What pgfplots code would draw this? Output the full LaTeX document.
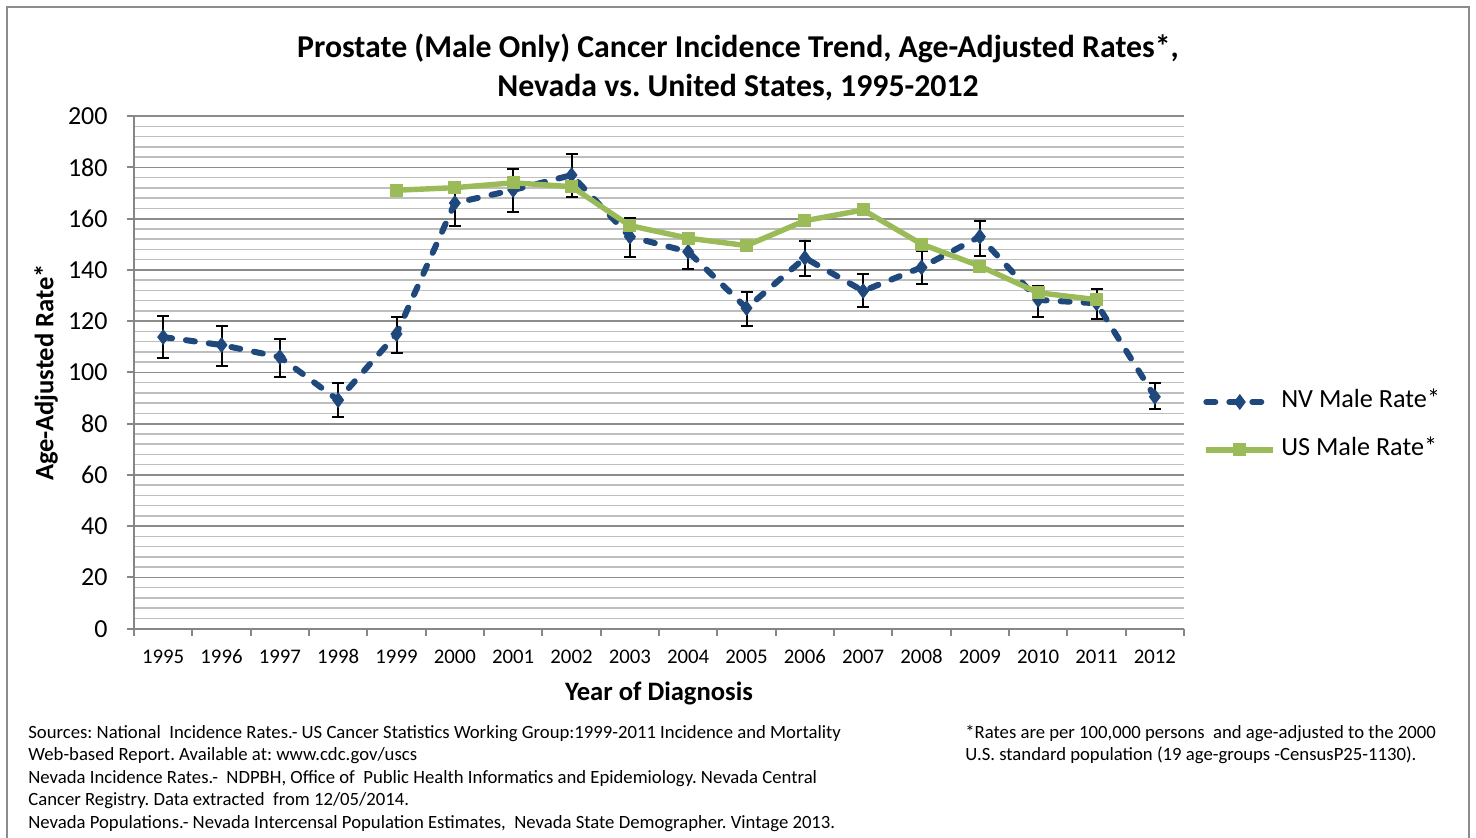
\documentclass[border=0pt]{standalone}
\usepackage{fontspec}
\setmainfont{Carlito}
\usepackage{pgfplots}
\usepackage{pgfplotstable}
\pgfplotsset{compat=1.18}
\frenchspacing
\definecolor{nvblue}{HTML}{1F497D}
\definecolor{usgreen}{HTML}{9BBB59}
\definecolor{majgrid}{HTML}{8C8C8C}
\definecolor{mingrid}{HTML}{BEBEBE}
\definecolor{axisgray}{HTML}{868686}
\definecolor{framegray}{HTML}{8C8C8C}

\pgfplotstableread{
x y ep em
0 113.8 8.2 8.2
1 110.7 7.4 8.2
2 106.0 7.0 7.8
3 89.2 6.7 6.6
4 115.0 6.6 7.4
5 166.1 8.2 8.8
6 171.2 8.2 8.6
7 177.0 8.2 8.4
8 153.0 7.3 7.8
9 147.1 7.3 6.7
10 125.1 6.3 6.9
11 144.7 6.7 6.9
12 131.8 6.5 6.1
13 141.0 6.5 6.5
14 153.0 6.2 7.6
15 128.3 5.6 6.5
16 127.0 5.6 6.1
17 90.5 5.3 4.8
}\nvdata

\pgfplotstableread{
x y
4 171.1
5 172.1
6 174.0
7 172.5
8 157.3
9 152.4
10 149.5
11 159.2
12 163.4
13 150.1
14 141.5
15 131.1
16 128.4
}\usdata

\begin{document}
\begin{tikzpicture}
\path[use as bounding box] (0pt,0pt) rectangle (738pt,419pt);
\draw[framegray, line width=1.2pt] (3.5pt,-5pt) -- (3.5pt,415.5pt) -- (734.5pt,415.5pt) -- (734.5pt,-5pt);

\begin{axis}[
  at={(67pt,104.65pt)}, anchor=south west,
  scale only axis, width=525pt, height=256.25pt,
  xmin=-0.5, xmax=17.5, ymin=0, ymax=200,
  axis x line=bottom, axis y line=left,
  axis line style={-, draw=axisgray, line width=1pt},
  tick align=outside,
  major tick length=3.5pt, minor tick length=0pt,
  tick style={draw=axisgray, line width=1pt},
  /pgf/number format/assume math mode=true,
  xtick={-0.5,0.5,...,17.5}, xticklabels={},
  extra x ticks={0,1,...,17},
  extra x tick labels={1995,1996,1997,1998,1999,2000,2001,2002,2003,2004,2005,2006,2007,2008,2009,2010,2011,2012},
  extra x tick style={major tick length=0pt},
  x tick label style={font=\fontsize{10.4}{12}\selectfont, anchor=base, yshift=-17.4pt},
  ytick={0,20,...,200},
  minor y tick num=4,
  y tick label style={font=\fontsize{13}{15}\selectfont, anchor=east, inner sep=0pt, xshift=-9.5pt},
  ymajorgrids, yminorgrids,
  major grid style={draw=majgrid, line width=0.9pt},
  minor grid style={draw=mingrid, line width=0.8pt},
  xlabel={Year of Diagnosis},
  xlabel style={font=\fontsize{13.3}{15}\selectfont\bfseries, at={(axis description cs:0.5,0)}, anchor=base, yshift=-36.15pt},
  ylabel={Age-Adjusted Rate*},
  ylabel style={font=\fontsize{13.3}{15}\selectfont\bfseries, at={(axis description cs:0,0.5)}, anchor=base, yshift=40.35pt},
  legend cell align=left,
  legend style={at={(axis description cs:1.018,0.3955)}, anchor=west, draw=none, fill=none,
    font=\fontsize{13.1}{15}\selectfont, inner sep=0pt, row sep=12pt,
    nodes={inner sep=0pt, text height=9pt, text depth=3pt},
    /tikz/every odd column/.append style={column sep=2.5pt}},
  legend image code/.code={\draw[mark repeat=2,mark phase=2] plot coordinates {(0pt,0pt) (16.75pt,0pt) (33.5pt,0pt)};},
]
\addplot[nvblue, line width=3pt, dash pattern=on 4.5pt off 7pt, line cap=round,
  mark=diamond*, mark size=3.6pt, mark options={solid, fill=nvblue, line width=0.5pt},
  error bars/.cd, y dir=both, y explicit,
  error bar style={black, line width=1pt, solid},
  error mark options={black, rotate=90, mark size=3pt, line width=1pt, solid}]
  table[x=x, y=y, y error plus=ep, y error minus=em] {\nvdata};
\addlegendentry{NV Male Rate*}
\addplot[usgreen, line width=2.7pt, line join=round,
  mark=square*, mark size=3pt, mark options={solid, fill=usgreen, line width=0.5pt}]
  table[x=x, y=y] {\usdata};
\addlegendentry{US Male Rate*}
\end{axis}

\node[font=\fontsize{15.9}{19}\selectfont\bfseries, anchor=base] at (369pt,390pt) {Prostate (Male Only) Cancer Incidence Trend, Age-Adjusted Rates*,};
\node[font=\fontsize{15.9}{19}\selectfont\bfseries, anchor=base] at (369pt,370.5pt) {Nevada vs. United States, 1995-2012};

\begin{scope}[every node/.style={font=\fontsize{9.35}{11.25}\selectfont, anchor=base west, inner sep=0pt}]
\node at (14pt,49.75pt) {Sources: National\ \ Incidence Rates.- US Cancer Statistics Working Group:1999-2011 Incidence and Mortality};
\node at (14pt,38.5pt) {Web-based Report. Available at: www.cdc.gov/uscs};
\node at (14pt,27.25pt) {Nevada Incidence Rates.-\ \ NDPBH, Office of\ \ Public Health Informatics and Epidemiology. Nevada Central};
\node at (14pt,16pt) {Cancer Registry. Data extracted\ \ from 12/05/2014.};
\node at (14pt,4.75pt) {Nevada Populations.- Nevada Intercensal Population Estimates,\ \ Nevada State Demographer. Vintage 2013.};
\node at (482.5pt,49.75pt) {*Rates are per 100,000 persons\ \ and age-adjusted to the 2000};
\node at (482.5pt,38.5pt) {U.S. standard population (19 age-groups -CensusP25-1130).};
\end{scope}
\end{tikzpicture}
\end{document}
